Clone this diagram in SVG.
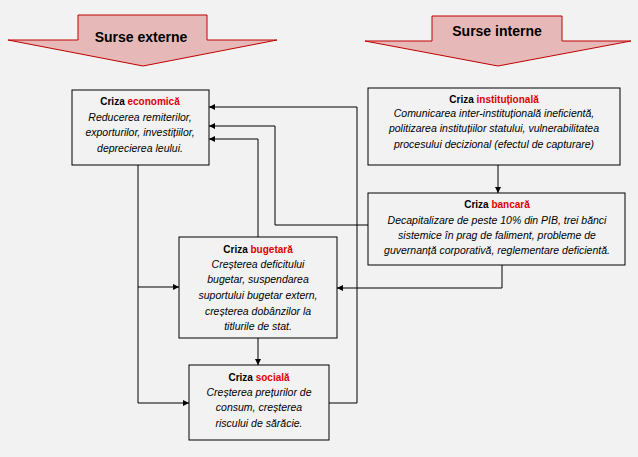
<svg xmlns="http://www.w3.org/2000/svg" width="638" height="457" viewBox="0 0 638 457">
<style>
.bg{fill:#f2f2f2}
.big{fill:#e6b9b8;stroke:#c00000;stroke-width:1}
.box{fill:#f2f2f2;stroke:#000;stroke-width:1}
.h{font-family:"Liberation Sans",Arial,sans-serif;font-weight:bold;font-size:14px;fill:#000;text-anchor:middle}
.t{font-family:"Liberation Sans",Arial,sans-serif;font-weight:bold;font-size:10px;fill:#000;text-anchor:middle}
.r{fill:#e00000}
.i{font-family:"Liberation Sans",Arial,sans-serif;font-style:italic;font-size:10.5px;fill:#000;text-anchor:middle}
.c{fill:none;stroke:#000;stroke-width:1}
</style>
<defs>
<marker id="ah" viewBox="0 0 10 10" refX="10" refY="5" markerWidth="6" markerHeight="6" markerUnits="userSpaceOnUse" orient="auto">
<path d="M0,0 L10,5 L0,10 z" fill="#000"/>
</marker>
</defs>
<rect class="bg" x="0" y="0" width="638" height="457"/>
<g id="surse-externe">
<path class="big" d="M78,15 H207 V40 H277 L143,66 L8,40 H78 Z"/>
<text class="h" x="141" y="42">Surse externe</text>
</g>
<g id="surse-interne">
<path class="big" d="M432,16 H562 V41 H631 L498,66 L365,41 H432 Z"/>
<text class="h" x="497" y="36">Surse interne</text>
</g>
<g id="connectors">
<path class="c" d="M357,403 V107 H209" marker-end="url(#ah)"/>
<path class="c" d="M329,403 H357"/>
<path class="c" d="M368,225 H275 V126 H209" marker-end="url(#ah)"/>
<path class="c" d="M258,237 V139 H209" marker-end="url(#ah)"/>
<path class="c" d="M138,165 V403 H189" marker-end="url(#ah)"/>
<path class="c" d="M138,287 H179" marker-end="url(#ah)"/>
<path class="c" d="M502,265 V288 H337" marker-end="url(#ah)"/>
<path class="c" d="M498,165 V193" marker-end="url(#ah)"/>
<path class="c" d="M258,338 V365" marker-end="url(#ah)"/>
</g>
<g id="economica">
<rect class="box" x="72" y="90" width="137" height="75"/>
<text class="t" x="140" y="105">Criza <tspan class="r">economică</tspan></text>
<text class="i" x="140" y="121">Reducerea remiterilor,</text>
<text class="i" x="140" y="136">exporturilor, investițiilor,</text>
<text class="i" x="140" y="152">deprecierea leului.</text>
</g>
<g id="institutionala">
<rect class="box" x="368" y="88" width="252" height="77"/>
<text class="t" x="494" y="103">Criza <tspan class="r">instituțională</tspan></text>
<text class="i" x="494" y="117">Comunicarea inter-instituțională ineficientă,</text>
<text class="i" x="494" y="132">politizarea instituțiilor statului, vulnerabilitatea</text>
<text class="i" x="494" y="148">procesului decizional (efectul de capturare)</text>
</g>
<g id="bancara">
<rect class="box" x="368" y="193" width="257" height="72"/>
<text class="t" x="497" y="208">Criza <tspan class="r">bancară</tspan></text>
<text class="i" x="497" y="224">Decapitalizare de peste 10% din PIB, trei bănci</text>
<text class="i" x="497" y="239">sistemice în prag de faliment, probleme de</text>
<text class="i" x="497" y="254">guvernanță corporativă, reglementare deficientă.</text>
</g>
<g id="bugetara">
<rect class="box" x="179" y="237" width="158" height="101"/>
<text class="t" x="258" y="253">Criza <tspan class="r">bugetară</tspan></text>
<text class="i" x="258" y="268">Creșterea deficitului</text>
<text class="i" x="258" y="283">bugetar, suspendarea</text>
<text class="i" x="258" y="299">suportului bugetar extern,</text>
<text class="i" x="258" y="315">creșterea dobânzilor la</text>
<text class="i" x="258" y="330">titlurile de stat.</text>
</g>
<g id="sociala">
<rect class="box" x="189" y="365" width="140" height="75"/>
<text class="t" x="259" y="381">Criza <tspan class="r">socială</tspan></text>
<text class="i" x="259" y="396">Creșterea prețurilor de</text>
<text class="i" x="259" y="411">consum, creșterea</text>
<text class="i" x="259" y="427">riscului de sărăcie.</text>
</g>
</svg>
